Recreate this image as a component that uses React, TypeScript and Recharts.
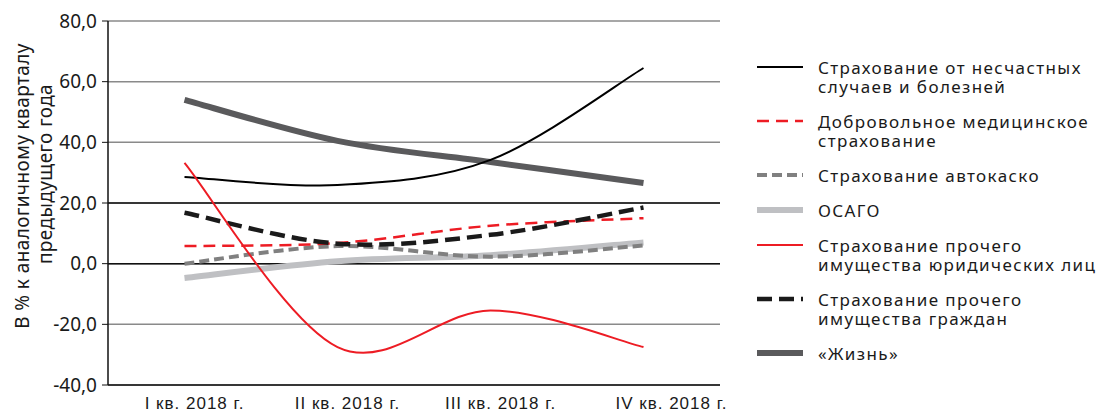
import { LineChart, Line, XAxis, YAxis, CartesianGrid, ReferenceLine } from 'recharts';

const quarters = ['I кв. 2018 г.', 'II кв. 2018 г.', 'III кв. 2018 г.', 'IV кв. 2018 г.'];
const accidents = [28.6, 25.9, 34.2, 64.5];
const dms = [5.8, 6.8, 12.5, 15.0];
const casco = [0.0, 5.8, 2.3, 6.0];
const osago = [-4.7, 0.8, 2.8, 7.0];
const corporate = [33.2, -27.5, -15.4, -27.5];
const personal = [16.8, 6.6, 9.5, 18.5];
const life = [54.0, 40.5, 33.5, 26.6];
const yTicks = [-40, -20, 0, 20, 40, 60, 80];

const names = [
    'Страхование от несчастных случаев и болезней',
    'Добровольное медицинское страхование',
    'Страхование автокаско',
    'ОСАГО',
    'Страхование прочего имущества юридических лиц',
    'Страхование прочего имущества граждан',
    '«Жизнь»',
];
const legendLines = [
    ['Страхование от несчастных', 'случаев и болезней'],
    ['Добровольное медицинское', 'страхование'],
    ['Страхование автокаско'],
    ['ОСАГО'],
    ['Страхование прочего', 'имущества юридических лиц'],
    ['Страхование прочего', 'имущества граждан'],
    ['«Жизнь»'],
];

const data = quarters.map((q, i) => ({
    q,
    accidents: accidents[i],
    dms: dms[i],
    casco: casco[i],
    osago: osago[i],
    corporate: corporate[i],
    personal: personal[i],
    life: life[i],
}));

const FONT = '"Noto Sans", sans-serif';

// keys in legend order, with the look of each line
const series = [
    { key: 'accidents', color: '#000000', width: 2, dash: undefined },
    { key: 'dms', color: '#ed1c24', width: 2.5, dash: '12 7' },
    { key: 'casco', color: '#808080', width: 4, dash: '10 5' },
    { key: 'osago', color: '#bfc0c3', width: 6, dash: undefined },
    { key: 'corporate', color: '#ed1c24', width: 2, dash: undefined },
    { key: 'personal', color: '#1a1a1a', width: 4.5, dash: '15 7' },
    { key: 'life', color: '#5a5a5c', width: 6, dash: undefined },
];
const drawOrder = ['life', 'osago', 'casco', 'dms', 'personal', 'accidents', 'corporate'];

// Excel-like smoothed line (Catmull-Rom through the points)
const smooth = (context: any) => {
    let pts: number[][] = [];
    return {
        areaStart() {},
        areaEnd() {},
        lineStart() {
            pts = [];
        },
        point(x: number, y: number) {
            pts.push([+x, +y]);
        },
        lineEnd() {
            if (!pts.length) return;
            context.moveTo(pts[0][0], pts[0][1]);
            for (let i = 0; i < pts.length - 1; i++) {
                const p0 = pts[i - 1] || pts[i];
                const p1 = pts[i];
                const p2 = pts[i + 1];
                const p3 = pts[i + 2] || p2;
                context.bezierCurveTo(
                    p1[0] + (p2[0] - p0[0]) / 6,
                    p1[1] + (p2[1] - p0[1]) / 6,
                    p2[0] - (p3[0] - p1[0]) / 6,
                    p2[1] - (p3[1] - p1[1]) / 6,
                    p2[0],
                    p2[1]
                );
            }
        },
    };
};

const QuarterTick = ({ x, y, index, label }: any) => (
    <g transform={`translate(${x + (index === 3 ? 28 : 10)},${y + 24})`}>
        <text x={0} y={0} textAnchor="middle" fill="#1a1a1a" style={{ font: '17px "Liberation Sans", sans-serif', letterSpacing: 1 }}>
            {label}
        </text>
    </g>
);

const YTitle = () => (
    <g fill="#1a1a1a" style={{ fontFamily: FONT, fontSize: 19, letterSpacing: 0.4 }}>
        <text x={14} y={178} transform="rotate(-90 14 178)" textAnchor="middle" dominantBaseline="central">
            В % к аналогичному кварталу
        </text>
        <text x={37} y={166} transform="rotate(-90 37 166)" textAnchor="middle" dominantBaseline="central">
            предыдущего года
        </text>
    </g>
);

const fmt = (v: number) => v.toFixed(1).replace('.', ',');

export default function App() {
    return (
        <div style={{ position: 'relative', width: 1097, height: 406, fontFamily: FONT }}>
            <LineChart
                width={1097}
                height={406}
                data={data}
                style={{ fontFamily: FONT }}
                margin={{ top: 13, right: 385, bottom: 0, left: 0 }}
            >
                <CartesianGrid vertical={false} stroke="#8a8a8a" strokeWidth={1.5} />
                <ReferenceLine y={20} stroke="#111" strokeWidth={1.5} />
                <ReferenceLine y={0} stroke="#111" strokeWidth={1.5} />
                <XAxis
                    dataKey="q"
                    scale="band"
                    height={29}
                    interval={0}
                    tickLine={false}
                    tickSize={0}
                    tickMargin={0}
                    axisLine={{ stroke: '#111', strokeWidth: 1.5 }}
                    tick={(p: any) => <QuarterTick x={p.x} y={p.y} index={p.index} label={p.payload.value} />}
                />
                <XAxis
                    xAxisId="top"
                    orientation="top"
                    dataKey="q"
                    scale="band"
                    height={0}
                    tick={false}
                    tickLine={false}
                    axisLine={{ stroke: '#333', strokeWidth: 1.5 }}
                />
                <YAxis
                    width={100}
                    domain={[-40, 80]}
                    ticks={yTicks}
                    interval={0}
                    tickFormatter={fmt}
                    tickSize={6}
                    tickMargin={5}
                    tickLine={{ stroke: '#111' }}
                    axisLine={{ stroke: '#111', strokeWidth: 1.5 }}
                    tick={{ fontSize: 19, fill: '#1a1a1a', fontFamily: FONT }}
                    label={<YTitle />}
                />
                <YAxis
                    yAxisId="right"
                    orientation="right"
                    width={0}
                    domain={[-40, 80]}
                    tick={false}
                    tickLine={false}
                    axisLine={{ stroke: '#333', strokeWidth: 1.5 }}
                />
                {drawOrder.map((k) => {
                    const s = series.find((x) => x.key === k)!;
                    return (
                        <Line
                            key={k}
                            dataKey={k}
                            name={names[series.indexOf(s)]}
                            type={smooth as any}
                            stroke={s.color}
                            strokeWidth={s.width}
                            strokeDasharray={s.dash}
                            dot={false}
                            activeDot={false}
                            isAnimationActive={false}
                        />
                    );
                })}
            </LineChart>
            <div
                style={{
                    position: 'absolute',
                    left: 749,
                    top: 50,
                    display: 'flex',
                    flexDirection: 'column',
                    gap: 16,
                    fontSize: 17,
                    lineHeight: '19px',
                    letterSpacing: 1.4,
                    color: '#1a1a1a',
                    whiteSpace: 'nowrap',
                }}
            >
                {series.map((s, i) => (
                    <div key={s.key} style={{ display: 'flex', alignItems: 'flex-start' }}>
                        <svg width={46} height={19} style={{ flexShrink: 0 }}>
                            <line
                                x1={0}
                                x2={46}
                                y1={9}
                                y2={9}
                                stroke={s.color}
                                strokeWidth={s.width}
                                strokeDasharray={s.dash}
                            />
                        </svg>
                        <div style={{ marginLeft: 15, whiteSpace: 'pre' }}>{legendLines[i].join('\n')}</div>
                    </div>
                ))}
            </div>
        </div>
    );
}
